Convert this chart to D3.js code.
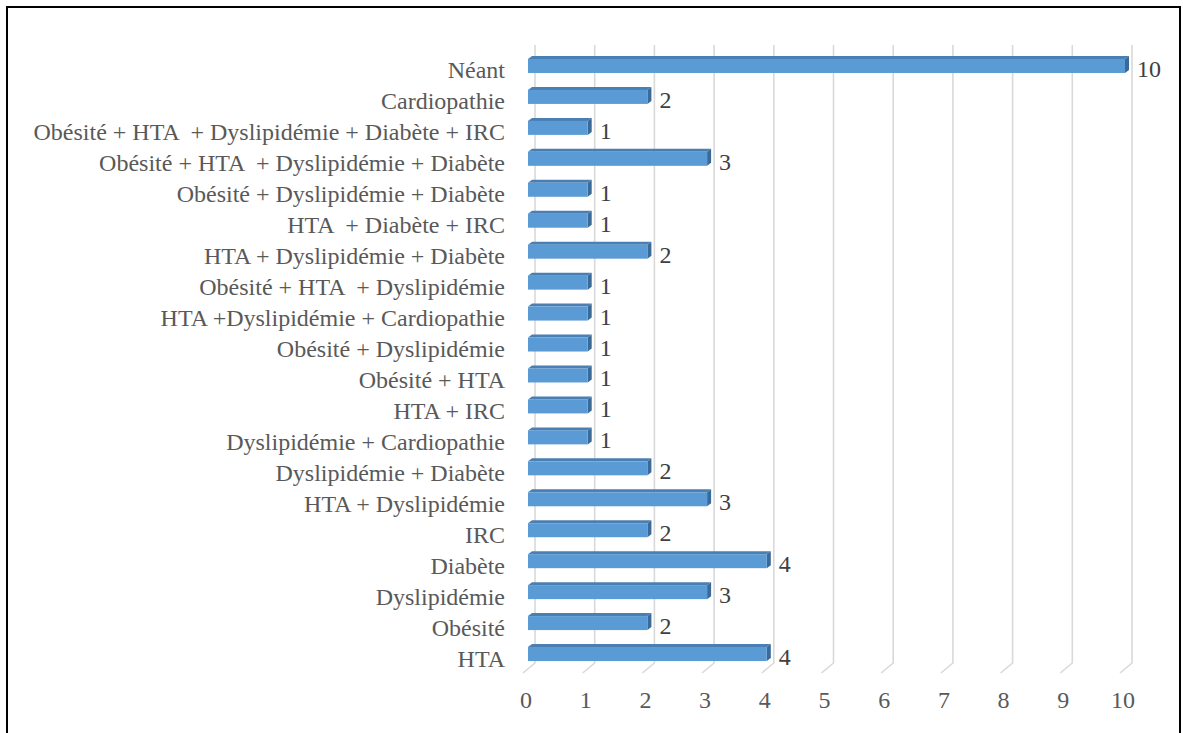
<!DOCTYPE html>
<html>
<head>
<meta charset="utf-8">
<script src="https://cdn.jsdelivr.net/npm/d3@7"></script>
<style>
  html, body { margin: 0; padding: 0; background: #fff; }
  svg { display: block; }
  text { font-family: "Liberation Serif", "Times New Roman", serif; white-space: pre; }
</style>
</head>
<body>
<svg id="chart" width="1183" height="733"></svg>
<script>
// Categories top to bottom
const categories = [
  "Néant",
  "Cardiopathie",
  "Obésité + HTA  + Dyslipidémie + Diabète + IRC",
  "Obésité + HTA  + Dyslipidémie + Diabète",
  "Obésité + Dyslipidémie + Diabète",
  "HTA  + Diabète + IRC",
  "HTA + Dyslipidémie + Diabète",
  "Obésité + HTA  + Dyslipidémie",
  "HTA +Dyslipidémie + Cardiopathie",
  "Obésité + Dyslipidémie",
  "Obésité + HTA",
  "HTA + IRC",
  "Dyslipidémie + Cardiopathie",
  "Dyslipidémie + Diabète",
  "HTA + Dyslipidémie",
  "IRC",
  "Diabète",
  "Dyslipidémie",
  "Obésité",
  "HTA"
];
const values = [10, 2, 1, 3, 1, 1, 2, 1, 1, 1, 1, 1, 1, 2, 3, 2, 4, 3, 2, 4];
const tickValues = [0, 1, 2, 3, 4, 5, 6, 7, 8, 9, 10];

const svg = d3.select("#chart");
const FS = 24;

// border
svg.append("rect")
  .attr("x", 7).attr("y", 7)
  .attr("width", 1173).attr("height", 760)
  .attr("fill", "none").attr("stroke", "#000").attr("stroke-width", 2);

// 3D geometry: front plane & depth offset
const depthDx = 12, depthDy = -10;
const x = d3.scaleLinear().domain([0, 10]).range([523, 1120]); // front floor
const y = d3.scalePoint().domain(categories).range([50.5, 669.5]).padding(0.5);

const backTop = 45, frontBottom = 673;
const gridG = svg.append("g");
tickValues.forEach(v => {
  const xb = x(v) + depthDx;
  gridG.append("path")
    .attr("d", `M${xb},${backTop}L${xb},${frontBottom + depthDy}L${x(v)},${frontBottom}`)
    .attr("fill", "none")
    .attr("stroke", "#d9d9d9")
    .attr("stroke-width", 1.6);
});

// tick labels
svg.append("g").selectAll("text").data(tickValues).join("text")
  .attr("x", d => x(d) + 3)
  .attr("y", 707.5)
  .attr("text-anchor", "middle")
  .attr("fill", "#595959")
  .attr("font-size", FS)
  .text(d => d);

// bars
const barH = 14, bDx = 4, bDy = -3, barFront = 5;
const bars = svg.append("g").selectAll("g").data(categories).join("g");
bars.each(function(c, i) {
  const g = d3.select(this);
  const cy = y(c);
  const x0 = x(0) + barFront;
  const x1 = x(values[i]) + barFront;
  const yt = cy - barH / 2, yb = cy + barH / 2;
  // top face
  g.append("path")
    .attr("d", `M${x0},${yt}L${x1},${yt}L${x1 + bDx},${yt + bDy}L${x0 + bDx},${yt + bDy}Z`)
    .attr("fill", "#4A7FB3");
  // side face
  g.append("path")
    .attr("d", `M${x1},${yt}L${x1 + bDx},${yt + bDy}L${x1 + bDx},${yb + bDy}L${x1},${yb}Z`)
    .attr("fill", "#3A6A98");
  // front face
  g.append("rect")
    .attr("x", x0).attr("y", yt)
    .attr("width", x1 - x0).attr("height", barH)
    .attr("fill", "#5B9BD5");
  // value label
  g.append("text")
    .attr("x", x1 + 12)
    .attr("y", cy + 11)
    .attr("fill", "#404040")
    .attr("font-size", FS)
    .text(values[i]);
});

// category labels
svg.append("g").selectAll("text").data(categories).join("text")
  .attr("x", 505)
  .attr("y", d => y(d) + 12.5)
  .attr("text-anchor", "end")
  .attr("fill", "#595959")
  .attr("font-size", FS)
  .text(d => d);
</script>
</body>
</html>
